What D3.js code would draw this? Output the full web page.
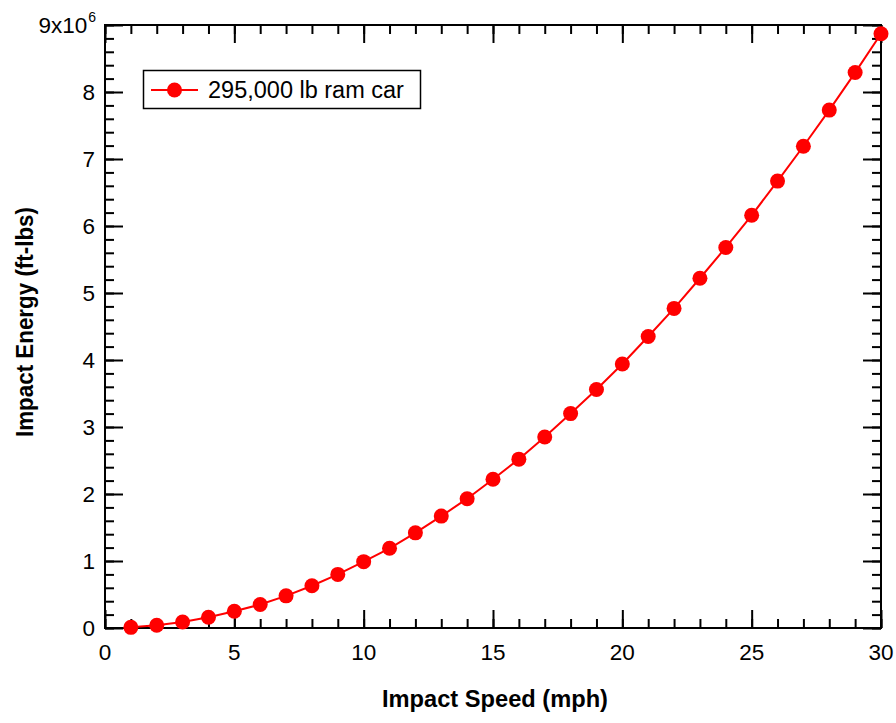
<!DOCTYPE html>
<html>
<head>
<meta charset="utf-8">
<script src="https://cdn.jsdelivr.net/npm/d3@7"></script>
<style>
  html, body { margin: 0; padding: 0; background: #fff; }
  text { font-family: Arial, "Liberation Sans", sans-serif; }
</style>
</head>
<body>
<svg id="chart" width="896" height="723"></svg>
<script>
// Impact speed (mph)
const speeds = [1,2,3,4,5,6,7,8,9,10,11,12,13,14,15,16,17,18,19,20,21,22,23,24,25,26,27,28,29,30];
// Impact energy (ft-lbs)
const energies = [
  0.01e6, 0.04e6, 0.09e6, 0.16e6, 0.25e6, 0.35e6, 0.48e6, 0.63e6, 0.80e6, 0.99e6,
  1.19e6, 1.42e6, 1.67e6, 1.93e6, 2.22e6, 2.52e6, 2.85e6, 3.20e6, 3.56e6, 3.94e6,
  4.35e6, 4.77e6, 5.22e6, 5.68e6, 6.16e6, 6.67e6, 7.19e6, 7.73e6, 8.29e6, 8.87e6
];
const xTicks = [0, 5, 10, 15, 20, 25, 30];
const yTicks = [0, 1, 2, 3, 4, 5, 6, 7, 8, 9];
const seriesName = "295,000 lb ram car";

const svg = d3.select("#chart");
const m = { left: 105, top: 25, right: 881, bottom: 628 };
const x = d3.scaleLinear().domain([0, 30]).range([m.left, m.right]);
const y = d3.scaleLinear().domain([0, 9e6]).range([m.bottom, m.top]);
const red = "#ff0000";
const tickFont = 22.5;

// ticks on all four sides, pointing inward
const xMinor = d3.range(0, 31, 1);
const yMinor = d3.range(0, 9.001, 0.2).map(v => v * 1e6);
const major = 18, minor = 9;

function styleAxis(g) {
  g.select(".domain").remove();
  g.selectAll("line").attr("stroke", "#000").attr("stroke-width", 2);
}

svg.append("g").attr("transform", `translate(0,${m.bottom})`)
  .call(d3.axisTop(x).tickValues(xMinor).tickSize(minor).tickFormat(""))
  .call(styleAxis);
svg.append("g").attr("transform", `translate(0,${m.bottom})`)
  .call(d3.axisTop(x).tickValues(xTicks).tickSize(major).tickFormat(""))
  .call(styleAxis);
svg.append("g").attr("transform", `translate(0,${m.top})`)
  .call(d3.axisBottom(x).tickValues(xMinor).tickSize(minor).tickFormat(""))
  .call(styleAxis);
svg.append("g").attr("transform", `translate(0,${m.top})`)
  .call(d3.axisBottom(x).tickValues(xTicks).tickSize(major).tickFormat(""))
  .call(styleAxis);
svg.append("g").attr("transform", `translate(${m.left},0)`)
  .call(d3.axisRight(y).tickValues(yMinor).tickSize(minor).tickFormat(""))
  .call(styleAxis);
svg.append("g").attr("transform", `translate(${m.left},0)`)
  .call(d3.axisRight(y).tickValues(yTicks.map(v => v * 1e6)).tickSize(major).tickFormat(""))
  .call(styleAxis);
svg.append("g").attr("transform", `translate(${m.right},0)`)
  .call(d3.axisLeft(y).tickValues(yMinor).tickSize(minor).tickFormat(""))
  .call(styleAxis);
svg.append("g").attr("transform", `translate(${m.right},0)`)
  .call(d3.axisLeft(y).tickValues(yTicks.map(v => v * 1e6)).tickSize(major).tickFormat(""))
  .call(styleAxis);

// frame
svg.append("rect")
  .attr("x", m.left).attr("y", m.top)
  .attr("width", m.right - m.left).attr("height", m.bottom - m.top)
  .attr("fill", "none").attr("stroke", "#000").attr("stroke-width", 2);

// tick labels
svg.append("g").selectAll("text").data(xTicks).join("text")
  .attr("x", d => x(d)).attr("y", m.bottom + 32)
  .attr("text-anchor", "middle").attr("font-size", tickFont).text(d => d);

const yl = svg.append("g");
yl.selectAll("text").data(yTicks.slice(0, -1)).join("text")
  .attr("x", m.left - 10).attr("y", d => y(d * 1e6) + 8)
  .attr("text-anchor", "end").attr("font-size", tickFont).text(d => d);
const topLabel = yl.append("text")
  .attr("x", m.left - 9).attr("y", y(9e6) + 8)
  .attr("text-anchor", "end").attr("font-size", tickFont);
topLabel.append("tspan").text("9x10");
topLabel.append("tspan").attr("font-size", 14).attr("dy", -11).attr("dx", 1).text("6");

// axis titles
svg.append("text")
  .attr("x", 495).attr("y", 707)
  .attr("text-anchor", "middle").attr("font-size", 23).attr("font-weight", "bold")
  .attr("textLength", 226).attr("lengthAdjust", "spacingAndGlyphs")
  .text("Impact Speed (mph)");
svg.append("text")
  .attr("transform", `translate(33,322) rotate(-90)`)
  .attr("text-anchor", "middle").attr("font-size", 23).attr("font-weight", "bold")
  .attr("textLength", 230).attr("lengthAdjust", "spacingAndGlyphs")
  .text("Impact Energy (ft-lbs)");

// series
const pts = speeds.map((s, i) => [s, energies[i]]);
svg.append("path").datum(pts)
  .attr("fill", "none").attr("stroke", red).attr("stroke-width", 2)
  .attr("d", d3.line().x(d => x(d[0])).y(d => y(d[1])));
svg.append("g").selectAll("circle").data(pts).join("circle")
  .attr("cx", d => x(d[0])).attr("cy", d => y(d[1])).attr("r", 7.5).attr("fill", red);

// legend
const lg = svg.append("g");
lg.append("rect").attr("x", 143.5).attr("y", 70.5).attr("width", 277).attr("height", 38)
  .attr("fill", "#fff").attr("stroke", "#000").attr("stroke-width", 1.5);
lg.append("line").attr("x1", 151).attr("x2", 198).attr("y1", 90).attr("y2", 90)
  .attr("stroke", red).attr("stroke-width", 2);
lg.append("circle").attr("cx", 174.5).attr("cy", 90).attr("r", 7.5).attr("fill", red);
lg.append("text").attr("x", 208).attr("y", 98).attr("font-size", 23.5).text(seriesName);
</script>
</body>
</html>
